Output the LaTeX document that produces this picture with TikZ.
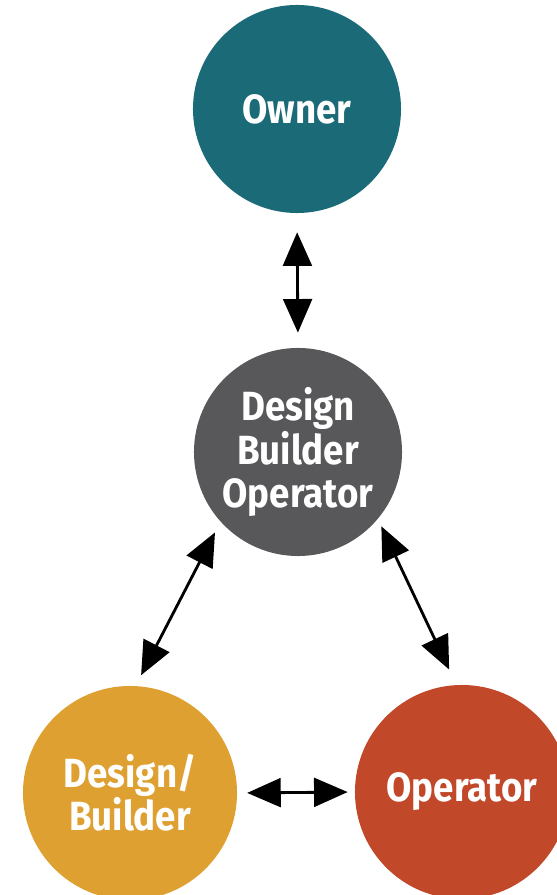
\documentclass[tikz,border=0pt]{standalone}
\usepackage{fontspec}
\setsansfont{Fira Sans}[FakeStretch=0.9]
\usetikzlibrary{arrows.meta}

\definecolor{ownerteal}{RGB}{27,106,119}
\definecolor{dbogrey}{RGB}{88,88,90}
\definecolor{dbgold}{RGB}{223,160,50}
\definecolor{oprust}{RGB}{194,72,42}

\begin{document}
\begin{tikzpicture}[x=0.025cm, y=0.025cm,
    party/.style={circle, inner sep=0pt, text=white, align=center,
      font=\sffamily\bfseries\fontsize{29}{30.6}\selectfont},
    link/.style={{Triangle[length=8.4mm,width=7.2mm]}-{Triangle[length=8.4mm,width=7.2mm]},
      line width=2pt}]
      \clip (0,0) rectangle (557,895);
      % the four parties
      \node[party, minimum size=5.2cm, fill=ownerteal] (owner) at (297,786) {Owner};
      \node[party, minimum size=5.2cm, fill=dbogrey] (dbo) at (298,443) {Design\\Builder\\Operator};
      \node[party, minimum size=5.35cm, fill=dbgold] (db) at (130,102) {Design/\\Builder};
      \node[party, minimum size=5.35cm, fill=oprust] (op) at (462,103) {Operator};
      % links between them
      \draw[link, shorten <=13.5pt, shorten >=10.7pt] (owner.south) -- (dbo.north);
      \draw[link, shorten <=8.5pt, shorten >=8.5pt] (dbo.222) -- (db.87);
      \draw[link, shorten <=5.7pt, shorten >=12pt] (dbo.320) -- (op.93);
      \draw[link, shorten <=7pt, shorten >=5pt] (db.east) -- (op.west);
\end{tikzpicture}
\end{document}
